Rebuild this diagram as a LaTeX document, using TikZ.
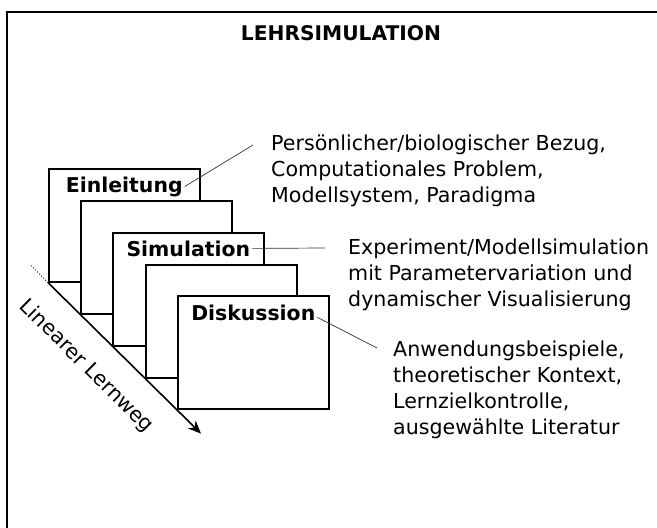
\documentclass[tikz,border=0pt]{standalone}
\usepackage{fontspec}
\setmainfont{DejaVu Sans}
\usetikzlibrary{arrows.meta,positioning,calc}

\begin{document}
\begin{tikzpicture}[
        x=1pt, y=-1pt,
        card/.style={draw, fill=white, line width=1.6pt, minimum width=151pt, minimum height=113pt, anchor=north west, inner sep=0pt},
        cardlabel/.style={anchor=base, inner sep=2pt, font=\bfseries\fontsize{20.4}{24}\selectfont},
        note/.style={anchor=north west, align=left, inner sep=0pt, font=\fontsize{20.6}{26}\selectfont},
        lead/.style={line width=0.7pt, black!80},
        arrow/.style={-{Stealth[length=13pt, width=11pt]}, line width=1.6pt}
    ]
        \useasboundingbox (0,0) rectangle (657,528);
        \draw[line width=2pt] (7,528) -- (7,12) -- (657,12);
        \node[font=\bfseries\fontsize{20.2}{24}\selectfont] (title) at (341,33) {LEHRSIMULATION};

        % stack of cards
        \node[card] (einl) at (48,168) {};
        \node[card] (card2) at (80,200) {};
        \node[card] (sim) at (112,232) {};
        \node[card] (card4) at (145,264) {};
        \node[card] (disk) at (177,295) {};
        \node[cardlabel] (einlt) at ([yshift=-24pt]einl.north) {Einleitung};
        \node[cardlabel] (simt) at ([yshift=-24pt]sim.north) {Simulation};
        \node[cardlabel] (diskt) at ([yshift=-25pt]disk.north) {Diskussion};

        % notes
        \node[note] (pers) at (271,135) {Persönlicher/biologischer Bezug,\\Computationales Problem,\\Modellsystem, Paradigma};
        \node[note] (expt) at (348,239) {Experiment/Modellsimulation\\mit Parametervariation und\\dynamischer Visualisierung};
        \node[note] (anw) at (393,341) {Anwendungsbeispiele,\\theoretischer Kontext,\\Lernzielkontrolle,\\ausgewählte Literatur};

        \draw[lead] (einlt.east) -- ([xshift=-18pt,yshift=-10pt]pers.north west);
        \draw[lead] (simt.east) -- ([xshift=-23pt,yshift=-9pt]expt.north west);
        \draw[lead] ([yshift=-5pt]diskt.east) -- ([xshift=-16pt,yshift=-7pt]anw.north west);

        % learning path
        \draw[dotted, line width=0.9pt] (einl.south west) -- ++(-17,-17);
        \draw[arrow] (einl.south west) -- node[sloped, below=22pt, pos=0.4, inner sep=0pt, font=\fontsize{20.6}{24}\selectfont] (path) {Linearer Lernweg} ($(disk.south west)+(24,24)$);
    \end{tikzpicture}
\end{document}
